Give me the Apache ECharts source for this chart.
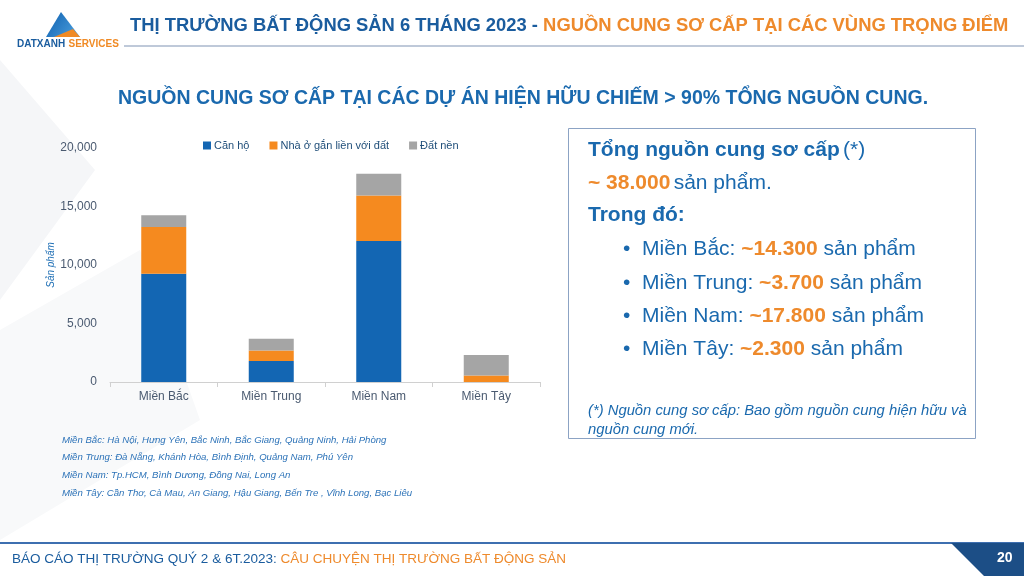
<!DOCTYPE html>
<html>
<head>
<meta charset="utf-8">
<script src="https://cdn.jsdelivr.net/npm/echarts@6/dist/echarts.min.js"></script>
<style>
  html, body { margin: 0; padding: 0; background: #fff; }
  #chart { width: 1024px; height: 576px; }
</style>
</head>
<body>
<div id="chart"></div>
<script>
// data
const regions = ['Miền Bắc', 'Miền Trung', 'Miền Nam', 'Miền Tây'];
const canHo = [9250, 1800, 12050, 0];
const nhaO = [4000, 900, 3900, 550];
const datNen = [1000, 1000, 1850, 1750];
const seriesNames = ['Căn hộ', 'Nhà ở gắn liền với đất', 'Đất nền'];
const colors = ['#1366B3', '#F58A1F', '#A5A5A5'];

const summary = [
  ['Miền Bắc: ', '~14.300'],
  ['Miền Trung: ', '~3.700'],
  ['Miền Nam: ', '~17.800'],
  ['Miền Tây: ', '~2.300']
];
const notes = [
  'Miền Bắc: Hà Nội, Hưng Yên, Bắc Ninh, Bắc Giang, Quảng Ninh, Hải Phòng',
  'Miền Trung: Đà Nẵng, Khánh Hòa, Bình Định, Quảng Nam, Phú Yên',
  'Miền Nam: Tp.HCM, Bình Dương, Đồng Nai, Long An',
  'Miền Tây: Cần Thơ, Cà Mau, An Giang, Hậu Giang, Bến Tre , Vĩnh Long, Bạc Liêu'
];

const BLUE = '#1A69AE';
const ORANGE = '#EE8A2C';
const FONT = 'Liberation Sans, Arial, sans-serif';

const graphics = [];

// faint background shapes
graphics.push({ type: 'polygon', silent: true, z: -10,
  shape: { points: [[0, 60], [95, 170], [0, 300]] }, style: { fill: '#F5F6F8' } });
graphics.push({ type: 'polygon', silent: true, z: -10,
  shape: { points: [[0, 330], [140, 250], [200, 420], [0, 540]] }, style: { fill: '#F8F9FA' } });

// logo
graphics.push({ type: 'polygon', shape: { points: [[61, 12], [46, 37], [80, 37]] },
  style: { fill: { type: 'linear', x: 0, y: 0, x2: 1, y2: 1,
    colorStops: [{ offset: 0, color: '#0E5FAF' }, { offset: 1, color: '#4FA3E0' }] } } });
graphics.push({ type: 'polygon', shape: { points: [[54, 37], [73, 29], [80, 37]] },
  style: { fill: '#F08A24' } });
graphics.push({ type: 'text', left: 17, top: 38,
  style: { text: '{a|DATXANH} {b|SERVICES}', rich: {
    a: { fill: '#1A5C9E', fontSize: 10, fontWeight: 'bold', fontFamily: FONT },
    b: { fill: '#F08A24', fontSize: 10, fontWeight: 'bold', fontFamily: FONT } } } });

// header
graphics.push({ type: 'text', left: 130, top: 17,
  style: { text: '{a|THỊ TRƯỜNG BẤT ĐỘNG SẢN 6 THÁNG 2023 - }{b|NGUỒN CUNG SƠ CẤP TẠI CÁC VÙNG TRỌNG ĐIỂM}',
    rich: {
      a: { fill: '#1A5C9E', fontSize: 18.4, fontWeight: 'bold', fontFamily: FONT },
      b: { fill: ORANGE, fontSize: 18.4, fontWeight: 'bold', fontFamily: FONT } } } });
graphics.push({ type: 'line', shape: { x1: 124, y1: 46, x2: 1024, y2: 46 },
  style: { stroke: '#7F93B3', lineWidth: 1 } });

// subtitle
graphics.push({ type: 'text', left: 118, top: 89,
  style: { text: 'NGUỒN CUNG SƠ CẤP TẠI CÁC DỰ ÁN HIỆN HỮU CHIẾM > 90% TỔNG NGUỒN CUNG.',
    fill: BLUE, fontSize: 19.5, fontWeight: 'bold', fontFamily: FONT } });

// footnotes under chart
notes.forEach((t, i) => {
  graphics.push({ type: 'text', left: 62, top: 435 + i * 17.7,
    style: { text: t, fill: '#2D73B8', fontSize: 9.6, fontStyle: 'italic', fontFamily: FONT } });
});

// summary box
graphics.push({ type: 'rect', shape: { x: 568.5, y: 128.5, width: 407, height: 310 },
  style: { fill: '#fff', stroke: '#8CA3C4', lineWidth: 1 } });
graphics.push({ type: 'text', left: 588, top: 140,
  style: { text: '{b|Tổng nguồn cung sơ cấp} {n|(*)}', rich: {
    b: { fill: BLUE, fontSize: 21, fontWeight: 'bold', fontFamily: FONT },
    n: { fill: BLUE, fontSize: 21, fontFamily: FONT } } } });
graphics.push({ type: 'text', left: 588, top: 173,
  style: { text: '{o|~ 38.000} {n|sản phẩm.}', rich: {
    o: { fill: ORANGE, fontSize: 21, fontWeight: 'bold', fontFamily: FONT },
    n: { fill: BLUE, fontSize: 21, fontFamily: FONT } } } });
graphics.push({ type: 'text', left: 588, top: 205,
  style: { text: 'Trong đó:', fill: BLUE, fontSize: 21, fontWeight: 'bold', fontFamily: FONT } });
summary.forEach((s, i) => {
  graphics.push({ type: 'text', left: 623, top: 239 + i * 33.3,
    style: { text: '{n|•  ' + s[0] + '}{o|' + s[1] + '}{n| sản phẩm}', rich: {
      o: { fill: ORANGE, fontSize: 21, fontWeight: 'bold', fontFamily: FONT },
      n: { fill: BLUE, fontSize: 21, fontFamily: FONT } } } });
});
graphics.push({ type: 'text', left: 588, top: 401,
  style: { text: '(*) Nguồn cung sơ cấp: Bao gồm nguồn cung hiện hữu và\nnguồn cung mới.',
    fill: BLUE, fontSize: 14.8, fontStyle: 'italic', lineHeight: 19, fontFamily: FONT } });

// footer
graphics.push({ type: 'line', shape: { x1: 0, y1: 543, x2: 1024, y2: 543 },
  style: { stroke: '#3E6FB0', lineWidth: 2 } });
graphics.push({ type: 'polygon', shape: { points: [[951, 543], [1024, 543], [1024, 576], [984, 576]] },
  style: { fill: '#1C4E86' } });
graphics.push({ type: 'text', left: 997, top: 551,
  style: { text: '20', fill: '#fff', fontSize: 14, fontWeight: 'bold', fontFamily: FONT } });
graphics.push({ type: 'text', left: 12, top: 552,
  style: { text: '{a|BÁO CÁO THỊ TRƯỜNG QUÝ 2 & 6T.2023: }{b|CÂU CHUYỆN THỊ TRƯỜNG BẤT ĐỘNG SẢN}', rich: {
    a: { fill: '#1A5C9E', fontSize: 13.5, fontFamily: FONT },
    b: { fill: ORANGE, fontSize: 13.5, fontFamily: FONT } } } });

const seriesData = [canHo, nhaO, datNen];
const series = seriesNames.map((name, i) => ({
  name: name,
  type: 'bar',
  stack: 'total',
  barWidth: 45,
  itemStyle: { color: colors[i] },
  emphasis: { disabled: true },
  data: seriesData[i]
}));

const chart = echarts.init(document.getElementById('chart'));
chart.setOption({
  animation: false,
  textStyle: { fontFamily: FONT },
  legend: {
    data: seriesNames,
    left: 198,
    top: 135,
    itemWidth: 8,
    itemHeight: 8,
    itemGap: 20,
    icon: 'rect',
    textStyle: { color: '#1F4E79', fontSize: 11, padding: [0, 0, 0, -2] }
  },
  grid: { left: 110, right: 484, top: 148, bottom: 194 },
  xAxis: {
    type: 'category',
    data: regions,
    axisLine: { lineStyle: { color: '#D0D0D0' } },
    axisTick: { show: true, length: 5, lineStyle: { color: '#D0D0D0' } },
    axisLabel: { color: '#4A5A70', fontSize: 12, margin: 9 }
  },
  yAxis: {
    type: 'value',
    min: 0,
    max: 20000,
    interval: 5000,
    name: 'Sản phẩm',
    nameLocation: 'middle',
    nameGap: 48,
    nameTextStyle: { color: '#1F6FB5', fontSize: 10, fontStyle: 'italic' },
    axisLine: { show: false },
    axisTick: { show: false },
    splitLine: { show: false },
    axisLabel: {
      color: '#4A5A70', fontSize: 12, margin: 13,
      formatter: v => v.toLocaleString('en-US')
    }
  },
  series: series,
  graphic: { elements: graphics }
});
</script>
</body>
</html>
